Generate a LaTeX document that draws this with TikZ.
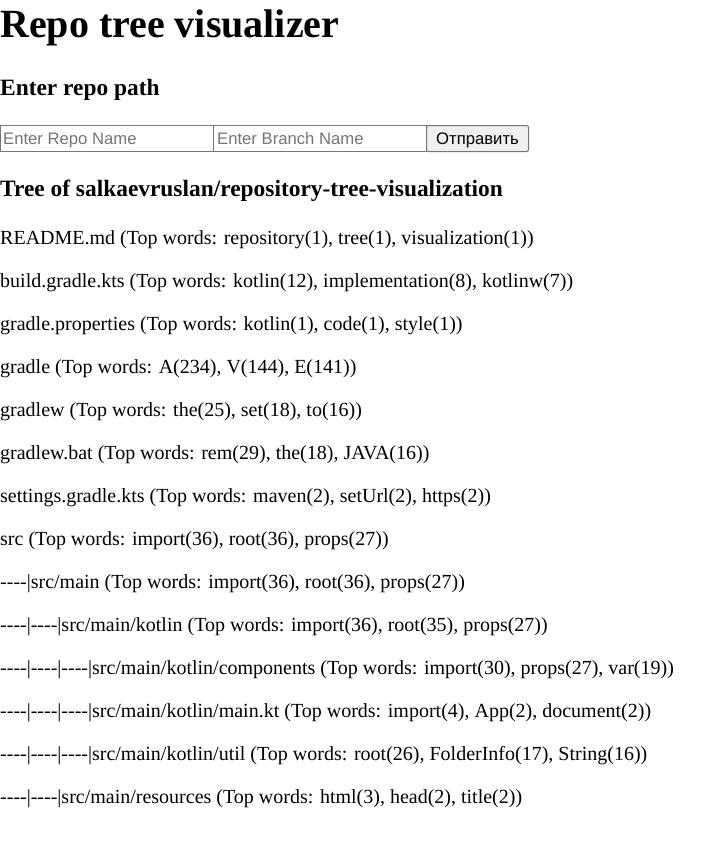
\documentclass[tikz,border=0pt]{standalone}
\usepackage{fontspec}
\setmainfont{Liberation Serif}[Ligatures=TeXOff]
\newfontfamily\arialfont{Liberation Sans}
\usepackage{xcolor}
\definecolor{fieldborder}{HTML}{767676}
\definecolor{placeholder}{HTML}{757575}
\definecolor{buttonfill}{HTML}{EFEFEF}

\tikzset{
    heading/.style={anchor=base west, inner sep=0pt, font=\fontsize{40}{46}\selectfont\bfseries},
    subheading/.style={anchor=base west, inner sep=0pt, font=\fontsize{23.4}{27}\selectfont\bfseries},
    field/.style={draw=fieldborder, line width=1pt},
    fieldtext/.style={anchor=base west, inner sep=0pt, text=placeholder, font=\arialfont\fontsize{16.67}{19}\selectfont},
    treeline/.style={anchor=base west, inner sep=0pt, font=\fontsize{20}{23}\selectfont}
}

\begin{document}
\begin{tikzpicture}[x=1pt,y=-1pt]
        % 页面范围
        \fill[white] (0,0) rectangle (709,841);
        \useasboundingbox (0,0) rectangle (709,841);

        % 标题
        \node[heading] (title) at (0,37) {Repo tree visualizer};
        \node[subheading] (enterpath) at (0,95) {Enter repo path};

        % 输入框和按钮
        \draw[field] (0.5,125.5) rectangle (213,151.5);
        \draw[field] (213.5,125.5) rectangle (426,151.5);
        \draw[field, fill=buttonfill, rounded corners=2pt] (426.5,125.5) rectangle (528.5,151.5);
        \node[fieldtext] (reponame) at (3,144) {Enter Repo Name};
        \node[fieldtext] (branchname) at (217,144) {Enter Branch Name};
        \node[fieldtext, text=black] (send) at (436,144) {Отправить};

        % 树
        \node[subheading] (treetitle) at (0,196) {Tree of salkaevruslan/repository-tree-visualization};
        \foreach \entry [count=\i from 0] in {
            {README.md (Top words: repository(1), tree(1), visualization(1))},
            {build.gradle.kts (Top words: kotlin(12), implementation(8), kotlinw(7))},
            {gradle.properties (Top words: kotlin(1), code(1), style(1))},
            {gradle (Top words: A(234), V(144), E(141))},
            {gradlew (Top words: the(25), set(18), to(16))},
            {gradlew.bat (Top words: rem(29), the(18), JAVA(16))},
            {settings.gradle.kts (Top words: maven(2), setUrl(2), https(2))},
            {src (Top words: import(36), root(36), props(27))},
            {----|src/main (Top words: import(36), root(36), props(27))},
            {----|----|src/main/kotlin (Top words: import(36), root(35), props(27))},
            {----|----|----|src/main/kotlin/components (Top words: import(30), props(27), var(19))},
            {----|----|----|src/main/kotlin/main.kt (Top words: import(4), App(2), document(2))},
            {----|----|----|src/main/kotlin/util (Top words: root(26), FolderInfo(17), String(16))},
            {----|----|src/main/resources (Top words: html(3), head(2), title(2))}}
            \node[treeline] (line\i) at (0,244+43*\i) {\entry};
    \end{tikzpicture}
\end{document}
